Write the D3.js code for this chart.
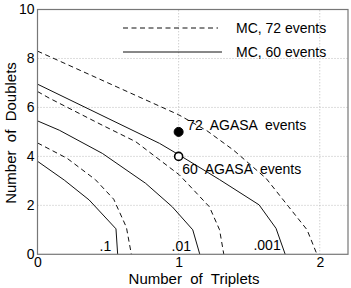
<!DOCTYPE html>
<html><head><meta charset="utf-8">
<script src="https://cdn.jsdelivr.net/npm/d3@7"></script>
<style>
html,body{margin:0;padding:0;background:#fff;}
text{font-family:"Liberation Sans",Arial,Helvetica,sans-serif;fill:#000;}
</style></head>
<body><svg id="c" width="351" height="288"></svg>
<script>
// Contour levels (probability) and their label positions
const levels = [".1", ".01", ".001"];
const levelLabelX = [0.44, 0.95, 1.53];
const levelLabelY = [0.13, 0.15, 0.17];

// MC, 72 events (dashed) contours: [triplets, doublets]
const mc72_p1   = [[0,4.55],[0.21,3.92],[0.41,3.05],[0.54,2.25],[0.63,1.1],[0.665,0]];
const mc72_p01  = [[0,6.65],[0.083,6.38],[0.45,5.3],[0.696,4.6],[1.006,3.24],[1.218,1.94],[1.29,1.0],[1.32,0]];
const mc72_p001 = [[0,8.3],[0.5,7.0],[1.0,5.7],[1.2,5.05],[1.39,4.25],[1.62,3.1],[1.78,1.94],[1.91,1.0],[1.98,0]];

// MC, 60 events (solid) contours
const mc60_p1   = [[0,3.8],[0.19,3.03],[0.366,2.22],[0.556,1.04],[0.568,0]];
const mc60_p01  = [[0,5.45],[0.154,5.07],[0.46,4.12],[0.766,2.9],[0.955,1.94],[1.1,1.0],[1.15,0]];
const mc60_p001 = [[0,6.95],[0.5,5.55],[0.865,4.53],[1.0,4.07],[1.29,3.05],[1.57,2.02],[1.69,1.06],[1.755,0]];

// AGASA observations
const agasaTriplets = [1, 1];
const agasaDoublets = [5, 4];
const agasaLabels = ["72  AGASA  events", "60  AGASA  events"];
const agasaLabelX = [1.06, 1.025];
const agasaLabelY = [5.08, 3.26];

const xTicks = [0, 1, 2];
const yTicks = [0, 2, 4, 6, 8, 10];
const legendLabels = ["MC, 72 events", "MC, 60 events"];

const svg = d3.select("#c");
const x = d3.scaleLinear().domain([0, 2.2]).range([37.5, 348]);
const y = d3.scaleLinear().domain([0, 10]).range([254.3, 9.5]);

// grid
const g = svg.append("g");
g.selectAll(".gx").data(xTicks.filter(d => d > 0)).join("line")
  .attr("x1", d => x(d)).attr("x2", d => x(d)).attr("y1", y(0)).attr("y2", y(10))
  .attr("stroke", "#bbb").attr("stroke-width", 1).attr("stroke-dasharray", "1,2");
g.selectAll(".gy").data(yTicks.filter(d => d > 0 && d < 10)).join("line")
  .attr("y1", d => y(d)).attr("y2", d => y(d)).attr("x1", x(0)).attr("x2", x(2.2))
  .attr("stroke", "#bbb").attr("stroke-width", 1).attr("stroke-dasharray", "1,2");

// curves
const line = d3.line().x(d => x(d[0])).y(d => y(d[1]));
const curves = [
  {d: mc72_p1, dash: true}, {d: mc72_p01, dash: true}, {d: mc72_p001, dash: true},
  {d: mc60_p1, dash: false}, {d: mc60_p01, dash: false}, {d: mc60_p001, dash: false}
];
svg.append("g").selectAll("path").data(curves).join("path")
  .attr("d", c => line(c.d)).attr("fill", "none").attr("stroke", "#111")
  .attr("stroke-width", 1).attr("stroke-dasharray", c => c.dash ? "5,3.5" : null);

// frame
svg.append("rect").attr("x", x(0)).attr("y", y(10)).attr("width", x(2.2) - x(0)).attr("height", y(0) - y(10))
  .attr("fill", "none").attr("stroke", "#777").attr("stroke-width", 1.2);

// axes
const xa = svg.append("g").attr("transform", `translate(0,${y(0)})`)
  .call(d3.axisBottom(x).tickValues(xTicks).tickFormat(d3.format("d")).tickSize(0).tickPadding(3));
const ya = svg.append("g").attr("transform", `translate(${x(0)},0)`)
  .call(d3.axisLeft(y).tickValues(yTicks).tickFormat(d3.format("d")).tickSize(0).tickPadding(3));
[xa, ya].forEach(a => {
  a.select(".domain").remove();
  a.selectAll("text").attr("font-size", 14).attr("font-family", '"Liberation Sans",Arial,sans-serif').attr("fill", "#000");
});

// axis titles
svg.append("text").attr("x", 194).attr("y", 284).attr("text-anchor", "middle")
  .attr("font-size", 15).style("white-space", "pre").text("Number  of  Triplets");
svg.append("text").attr("transform", "translate(16,133) rotate(-90)").attr("text-anchor", "middle")
  .attr("font-size", 15).style("white-space", "pre").text("Number  of  Doublets");

// AGASA points
agasaTriplets.forEach((t, i) => {
  svg.append("circle").attr("cx", x(t)).attr("cy", y(agasaDoublets[i])).attr("r", i === 0 ? 4.5 : 4)
    .attr("fill", i === 0 ? "#000" : "#fff").attr("stroke", "#000").attr("stroke-width", i === 0 ? 1 : 1.6);
  svg.append("text").attr("x", x(agasaLabelX[i])).attr("y", y(agasaLabelY[i]))
    .attr("font-size", 14).style("white-space", "pre").text(agasaLabels[i]);
});

// level labels
levels.forEach((l, i) => {
  svg.append("text").attr("x", x(levelLabelX[i])).attr("y", y(levelLabelY[i]))
    .attr("font-size", 14).text(l);
});

// legend
legendLabels.forEach((l, i) => {
  const yy = 28 + i * 24;
  svg.append("line").attr("x1", 123).attr("x2", i === 0 ? 218 : 222).attr("y1", yy).attr("y2", yy)
    .attr("stroke", "#111").attr("stroke-width", 1).attr("stroke-dasharray", i === 0 ? "5,3.5" : null);
  svg.append("text").attr("x", 236).attr("y", yy + 4.8).attr("font-size", 14).text(l);
});
</script></body></html>
